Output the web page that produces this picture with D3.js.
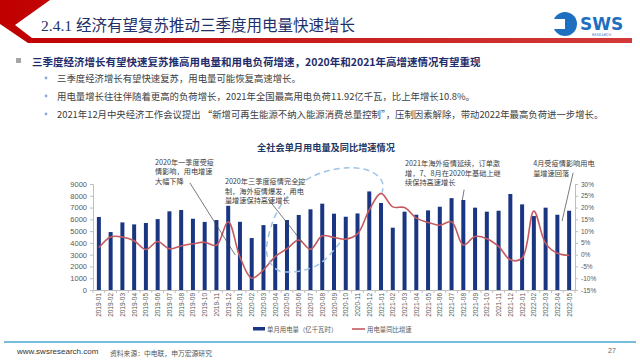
<!DOCTYPE html>
<html><head><meta charset="utf-8">
<script src="https://cdn.jsdelivr.net/npm/d3@7/dist/d3.min.js"></script>
<style>
html,body{margin:0;padding:0;background:#fff;}
svg{display:block;font-family:"Noto Sans CJK SC","Noto Sans",sans-serif;}
</style></head>
<body>
<svg id="c" width="640" height="360"></svg>
<script>
// ---------- data ----------
const months = ["2019-01","2019-02","2019-03","2019-04","2019-05","2019-06","2019-07","2019-08","2019-09","2019-10","2019-11","2019-12",
"2020-01","2020-02","2020-03","2020-04","2020-05","2020-06","2020-07","2020-08","2020-09","2020-10","2020-11","2020-12",
"2021-01","2021-02","2021-03","2021-04","2021-05","2021-06","2021-07","2021-08","2021-09","2021-10","2021-11","2021-12",
"2022-01","2022-02","2022-03","2022-04","2022-05"];
const power = [6200,4920,5740,5570,5690,6020,6680,6790,6050,5780,5940,7150,
5790,4410,5510,5600,5940,6370,6850,7330,6480,6220,6500,8370,
7385,5290,6650,6390,6760,7070,7800,7640,6990,6650,6730,8150,
7270,6280,6990,6390,6730];
const growth = [2.9,7.5,7.5,5.9,2.2,5.6,2.5,3.7,4.6,5.3,4.0,14.0,
-1.0,-10.0,-6.5,-0.8,2.5,6.2,2.3,8.0,7.3,6.6,8.8,19.0,
26.0,20.3,20.0,15.5,13.7,12.5,14.0,4.1,7.7,6.8,3.5,-2.2,
-1.5,18.5,4.8,0.6,-0.3];
const leftTicks = [0,1000,2000,3000,4000,5000,6000,7000,8000,9000];
const rightTicks = [-15,-10,-5,0,5,10,15,20,25,30];
const seriesNames = ["单月用电量（亿千瓦时）","用电量同比增速"];
const chartTitle = "全社会单月用电量及同比增速情况";
const pageTitle = "2.4.1 经济有望复苏推动三季度用电量快速增长";
const mainBullet = "三季度经济增长有望快速复苏推高用电量和用电负荷增速，2020年和2021年高增速情况有望重现";
const subBullets = ["三季度经济增长有望快速复苏，用电量可能恢复高速增长。",
"用电量增长往往伴随着更高的负荷增长，2021年全国最高用电负荷11.92亿千瓦，比上年增长10.8%。",
"2021年12月中央经济工作会议提出 “新增可再生能源不纳入能源消费总量控制”，压制因素解除，带动2022年最高负荷进一步增长。"];
// annotations: text lines, text anchor [monthIndex, leftValue], leader from/to [monthIndex, leftValue]
const notes = [
 {lines:["2020年一季度受疫","情影响，用电增速","大幅下降"], at:[4.77,10880], from:[7.74,9100], to:[11.6,2970]},
 {lines:["2020年三季度疫情完全控","制，海外疫情爆发，用电","量增速保持高速增长"], at:[10.72,9260], from:[14.4,7720], to:[17.3,4080]},
 {lines:["2021年海外疫情延续，订单激","增，7、8月在2020年基础上继","续保持高速增长"], at:[26.04,10780], from:[31.07,8520], to:[30.9,7570]},
 {lines:["4月受疫情影响用电","量增速回落"], at:[36.94,10780], from:[40.34,9950], to:[39.4,5860]}
];
const ellipsePts = [[20.5,4015],[18.8,2232],[16.7,1553],[15.15,1723],[14.3,2997],[14.7,5543],[15.8,7665],[17.4,9193],[19.2,10042],[21.4,10382],[23.2,10042],[24.1,9193],[24.1,8260]];

// ---------- drawing ----------
const svg = d3.select("#c");
const navy = "#1a3683", lineCol = "#c45a60", axisCol = "#bfbfbf", txt = "#595959";

// header chevron + red rule
const grad = svg.append("defs").append("linearGradient").attr("id","rg").attr("x1","0").attr("x2","1");
grad.append("stop").attr("offset","0").attr("stop-color","#c00000");
grad.append("stop").attr("offset","1").attr("stop-color","#d23a3a");
svg.append("path").attr("d","M0,0L50,0L15,25L32,38L632,38L632,43L28,43L0,24Z").attr("fill","url(#rg)");
svg.append("text").attr("x",41).attr("y",25).attr("dominant-baseline","central")
  .attr("font-family","'Liberation Serif','Noto Sans CJK SC',serif").attr("font-size",15.5)
  .attr("fill","#1f3069").text(pageTitle);
// logo
svg.append("circle").attr("cx",565).attr("cy",24).attr("r",12).attr("fill","#1f6fc0");
svg.append("rect").attr("x",553).attr("y",19).attr("width",12).attr("height",10).attr("fill","#fff");
svg.append("text").attr("x",580).attr("y",30).attr("font-family","'DejaVu Sans',sans-serif").attr("font-weight","bold")
  .attr("font-size",17).attr("fill","#1f6fc0").text("SWS");
svg.append("text").attr("x",592).attr("y",36).attr("font-family","'DejaVu Sans',sans-serif")
  .attr("font-size",3.6).attr("fill","#1f6fc0").text("RESEARCH");

// bullets
svg.append("rect").attr("x",16).attr("y",58).attr("width",5).attr("height",5).attr("fill","#a6a6a6");
svg.append("text").attr("x",32).attr("y",61).attr("dominant-baseline","central").attr("font-size",10.5)
  .attr("font-weight","bold").attr("fill","#1f2d6b").text(mainBullet);
const subY = [78,96,114];
subBullets.forEach((s,i)=>{
  svg.append("circle").attr("cx",46).attr("cy",subY[i]).attr("r",1.4).attr("fill","#8ea9db");
  svg.append("text").attr("x",57).attr("y",subY[i]).attr("dominant-baseline","central").attr("font-size",9.4)
    .attr("fill","#404040").text(s);
});

// chart title
svg.append("text").attr("x",326).attr("y",147).attr("text-anchor","middle").attr("dominant-baseline","central")
  .attr("font-size",9.2).attr("font-weight","bold").attr("fill","#1f3864").text(chartTitle);

// scales
const x = d3.scaleBand().domain(months).range([93,575]).paddingInner(0.66).paddingOuter(0.33);
const yL = d3.scaleLinear().domain([0,9000]).range([290,184]);
const yR = d3.scaleLinear().domain([-15,30]).range([290,184]);
const xi = i => x(months[0]) + x.bandwidth()/2 + i*x.step();

// axes
const gL = svg.append("g").attr("transform","translate(93,0)")
  .call(d3.axisLeft(yL).tickValues(leftTicks).tickSize(3).tickPadding(3).tickFormat(d3.format("d")));
const gR = svg.append("g").attr("transform","translate(575,0)")
  .call(d3.axisRight(yR).tickValues(rightTicks).tickSize(3).tickPadding(3).tickFormat(d=>d+"%"));
const gB = svg.append("g").attr("transform","translate(0,290)")
  .call(d3.axisBottom(x).tickSize(0).tickPadding(4));
[gL,gR,gB].forEach(g=>{g.selectAll("path,line").attr("stroke",axisCol);});
gL.selectAll("text").attr("font-size",7.5).attr("fill",txt).attr("font-family","'Liberation Sans',Arial,sans-serif");
gR.selectAll("text").attr("font-size",6.5).attr("fill",txt).attr("font-family","'Liberation Sans',Arial,sans-serif");
gB.selectAll("text").attr("font-size",6.5).attr("fill",txt).attr("font-family","'Liberation Sans',Arial,sans-serif")
  .attr("text-anchor","end").attr("dominant-baseline","central")
  .attr("transform","translate(0,3) rotate(-90)").attr("x",0).attr("y",0).attr("dy",0);
// category boundary ticks
svg.append("g").selectAll("line").data(d3.range(months.length+1)).join("line")
  .attr("x1",i=>93+i*x.step()).attr("x2",i=>93+i*x.step()).attr("y1",290).attr("y2",293).attr("stroke",axisCol);

// bars
svg.append("g").selectAll("rect").data(power).join("rect")
  .attr("x",(d,i)=>x(months[i])).attr("width",x.bandwidth())
  .attr("y",d=>yL(d)).attr("height",d=>yL(0)-yL(d)).attr("fill",navy);

// growth line
svg.append("path").datum(growth)
  .attr("d",d3.line().x((d,i)=>xi(i)).y(d=>yR(d)).curve(d3.curveCatmullRom.alpha(0.5)))
  .attr("fill","none").attr("stroke",lineCol).attr("stroke-width",1.6);

// dashed highlight
svg.append("path").datum(ellipsePts)
  .attr("d",d3.line().x(d=>xi(d[0])).y(d=>yL(d[1])).curve(d3.curveCatmullRom.alpha(0.5)))
  .attr("fill","none").attr("stroke","#9dc3e6").attr("stroke-width",1.5).attr("stroke-dasharray","6,4");

// annotations
notes.forEach(n=>{
  svg.append("line").attr("x1",xi(n.from[0])).attr("y1",yL(n.from[1])).attr("x2",xi(n.to[0])).attr("y2",yL(n.to[1]))
    .attr("stroke","#404040").attr("stroke-width",0.7);
  const t = svg.append("text").attr("x",xi(n.at[0])).attr("y",yL(n.at[1])).attr("font-size",7.2).attr("fill","#404040")
    .attr("dominant-baseline","central");
  n.lines.forEach((l,k)=>t.append("tspan").attr("x",xi(n.at[0])).attr("dy",k?9.6:0).text(l));
});

// legend
const lg = svg.append("g");
lg.append("rect").attr("x",253).attr("y",327).attr("width",12).attr("height",3.5).attr("fill",navy);
lg.append("text").attr("x",267).attr("y",329).attr("dominant-baseline","central").attr("font-size",6.4).attr("fill",txt).text(seriesNames[0]);
lg.append("line").attr("x1",352).attr("x2",365).attr("y1",329).attr("y2",329).attr("stroke",lineCol).attr("stroke-width",1.6);
lg.append("text").attr("x",367).attr("y",329).attr("dominant-baseline","central").attr("font-size",6.4).attr("fill",txt).text(seriesNames[1]);

// footer
svg.append("line").attr("x1",4).attr("x2",636).attr("y1",342).attr("y2",342).attr("stroke","#4aa8d2").attr("stroke-width",1.5);
svg.append("text").attr("x",17).attr("y",351).attr("dominant-baseline","central").attr("font-family","'Liberation Sans',Arial,sans-serif")
  .attr("font-size",8).attr("fill","#333").text("www.swsresearch.com");
svg.append("text").attr("x",110).attr("y",353).attr("dominant-baseline","central").attr("font-size",6.8).attr("fill","#555").text("资料来源：中电联，申万宏源研究");
svg.append("text").attr("x",608).attr("y",350).attr("dominant-baseline","central").attr("font-family","'Liberation Sans',Arial,sans-serif")
  .attr("font-size",7).attr("fill","#666").text("27");
</script>
</body></html>
